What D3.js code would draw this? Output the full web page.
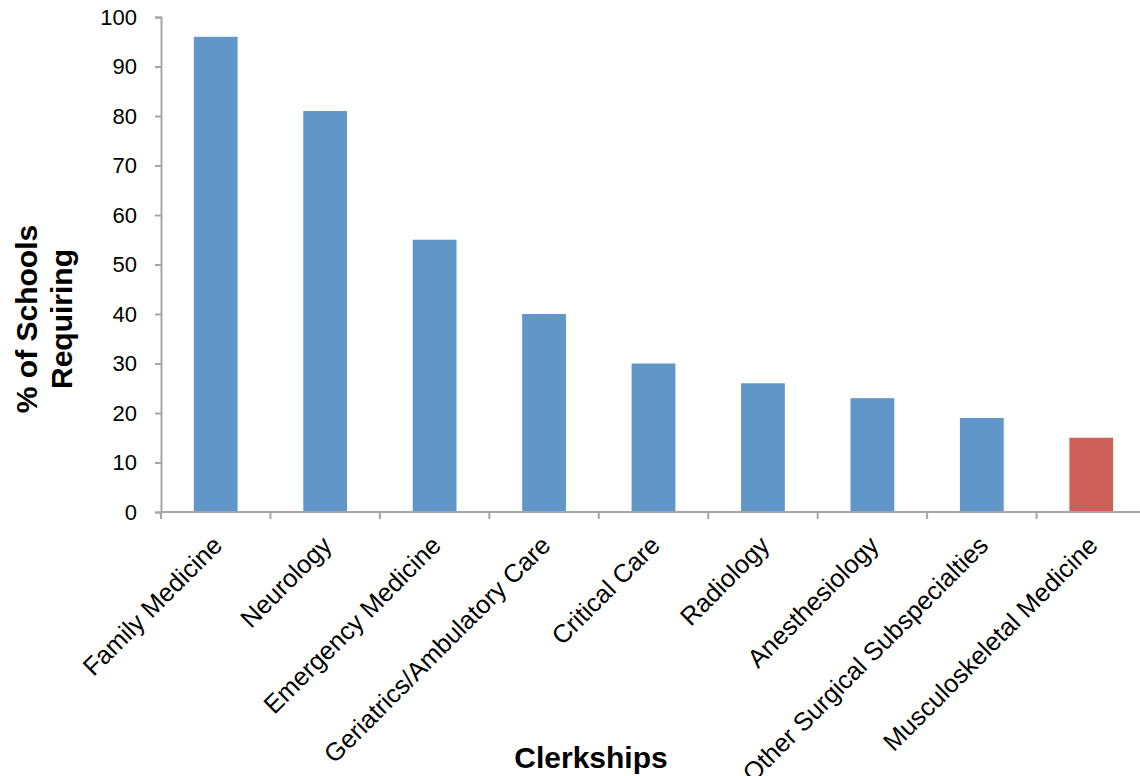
<!DOCTYPE html>
<html>
<head>
<meta charset="utf-8">
<script src="https://cdn.jsdelivr.net/npm/d3@7"></script>
<style>
  body { margin: 0; background: #fff; }
  svg { display: block; }
</style>
</head>
<body>
<svg class="chart" width="1140" height="776"></svg>
<script>
// data
const categories = ["Family Medicine", "Neurology", "Emergency Medicine", "Geriatrics/Ambulatory Care",
  "Critical Care", "Radiology", "Anesthesiology", "Other Surgical Subspecialties", "Musculoskeletal Medicine"];
const values = [96, 81, 55, 40, 30, 26, 23, 19, 15];
const highlight = ["Musculoskeletal Medicine"];
const yTicks = [0, 10, 20, 30, 40, 50, 60, 70, 80, 90, 100];

const svg = d3.select("svg.chart");
const plotLeft = 161, plotRight = 1146, plotTop = 17, plotBottom = 512;

const x = d3.scaleBand().domain(categories).range([plotLeft, plotRight]).paddingInner(0.6).paddingOuter(0.3);
const y = d3.scaleLinear().domain([0, 100]).range([plotBottom, plotTop]);
const axisColor = "#a6a6a6";

// bars
svg.selectAll("rect.bar")
  .data(categories)
  .enter().append("rect")
  .attr("class", "bar")
  .attr("x", d => x(d))
  .attr("width", x.bandwidth())
  .attr("y", (d, i) => y(values[i]))
  .attr("height", (d, i) => y(0) - y(values[i]))
  .attr("fill", d => highlight.includes(d) ? "#cd6159" : "#6096c8");

// y axis
const yAxis = svg.append("g")
  .attr("transform", "translate(" + plotLeft + ",0)")
  .call(d3.axisLeft(y).tickValues(yTicks).tickSize(6).tickPadding(18).tickSizeOuter(6));
yAxis.selectAll("path, line").attr("stroke", axisColor).attr("stroke-width", 2);
yAxis.selectAll("text")
  .attr("font-family", "'Liberation Sans', Arial, sans-serif")
  .attr("font-size", 22).attr("fill", "#000");

// x axis: ticks sit on the band boundaries
const step = x.step();
const boundaries = d3.range(categories.length + 1).map(i => plotLeft + i * step);
svg.append("line")
  .attr("x1", plotLeft).attr("x2", plotRight)
  .attr("y1", plotBottom).attr("y2", plotBottom)
  .attr("stroke", axisColor).attr("stroke-width", 2);
svg.selectAll("line.xtick")
  .data(boundaries)
  .enter().append("line")
  .attr("class", "xtick")
  .attr("x1", d => d).attr("x2", d => d)
  .attr("y1", plotBottom).attr("y2", plotBottom + 7)
  .attr("stroke", axisColor).attr("stroke-width", 2);

// rotated category labels (the longest ones run off the bottom, as in the original)
svg.selectAll("text.cat")
  .data(categories)
  .enter().append("text")
  .attr("class", "cat")
  .attr("transform", d => "translate(" + (x(d) + x.bandwidth() / 2 + 8) + "," + (plotBottom + 35) + ") rotate(-45)")
  .attr("text-anchor", "end")
  .attr("font-family", "'Liberation Sans', Arial, sans-serif")
  .attr("font-size", 25.5)
  .text(d => d);

// axis titles
svg.append("text")
  .attr("x", 591).attr("y", 768)
  .attr("text-anchor", "middle")
  .attr("font-family", "'Liberation Sans', Arial, sans-serif")
  .attr("font-weight", "bold").attr("font-size", 30)
  .text("Clerkships");

const yTitle = svg.append("text")
  .attr("transform", "translate(37,319) rotate(-90)")
  .attr("text-anchor", "middle")
  .attr("font-family", "'Liberation Sans', Arial, sans-serif")
  .attr("font-weight", "bold").attr("font-size", 30);
yTitle.append("tspan").attr("x", 0).attr("dy", 0).text("% of Schools");
yTitle.append("tspan").attr("x", 0).attr("dy", 35).text("Requiring");
</script>
</body>
</html>
